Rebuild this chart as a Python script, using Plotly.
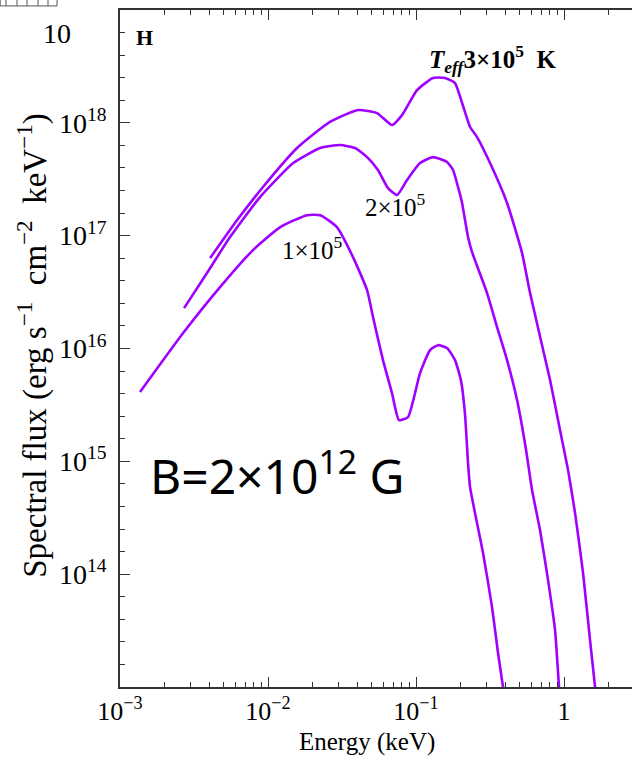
import plotly.graph_objects as go

# ---- data ----
# Teff = 1e5 K
E1 = [1.365e-3, 2.67e-3, 4.74e-3, 7.92e-3, 1.21e-2, 1.83e-2, 2.25e-2, 2.92e-2, 3.75e-2, 4.67e-2,
      5.12e-2, 5.98e-2, 6.88e-2, 7.67e-2, 8.83e-2, 0.1064, 0.1243, 0.1408, 0.162, 0.1834,
      0.2014, 0.2144, 0.2245, 0.2317, 0.2504, 0.2836, 0.3262, 0.3582, 0.3871, 0.4056]
F1 = [4.11e15, 1.37e16, 3.50e16, 7.45e16, 1.19e17, 1.52e17, 1.52e17, 1.19e17, 6.46e16, 3.29e16,
      1.90e16, 7.89e15, 4.02e15, 2.32e15, 2.47e15, 6.05e15, 9.68e15, 1.07e16, 1.01e16, 7.89e15,
      5.14e15, 2.57e15, 9.64e14, 5.91e14, 3.47e14, 1.54e14, 5.10e13, 1.99e13, 9.96e12, 6.23e12]

# Teff = 2e5 K
E2 = [2.71e-3, 3.87e-3, 5.54e-3, 8.83e-3, 1.48e-2, 2.25e-2, 3.07e-2, 3.87e-2, 4.67e-2, 5.53e-2,
      6.47e-2, 7.44e-2, 8.69e-2, 0.1064, 0.1302, 0.162, 0.1778, 0.1922, 0.2046, 0.2144,
      0.2245, 0.2390, 0.3018, 0.3526, 0.412, 0.4813, 0.5537, 0.608, 0.6884, 0.7796,
      0.8693, 0.925, 0.954]
F2 = [2.28e16, 4.66e16, 9.72e16, 2.20e17, 4.40e17, 5.98e17, 6.36e17, 5.98e17, 4.97e17, 3.82e17,
      2.64e17, 2.29e17, 3.11e17, 4.40e17, 4.97e17, 4.49e17, 3.82e17, 2.70e17, 1.95e17, 1.37e17,
      9.72e16, 7.16e16, 3.10e16, 1.55e16, 7.89e15, 3.49e15, 1.26e15, 5.56e14, 2.45e14, 8.85e13,
      3.19e13, 9.96e12, 6.23e12]

# Teff = 3e5 K
E3 = [4.06e-3, 6.17e-3, 9.25e-3, 1.57e-2, 2.62e-2, 4.06e-2, 5.45e-2, 6.88e-2, 8.04e-2, 0.1016,
      0.1302, 0.157, 0.1834, 0.2046, 0.2317, 0.2584, 0.3162, 0.412, 0.5202, 0.5893,
      0.8043, 0.9397, 1.064, 1.187, 1.344, 1.498, 1.620, 1.671]
F3 = [6.33e16, 1.37e17, 2.70e17, 5.98e17, 1.02e18, 1.30e18, 1.22e18, 9.56e17, 1.17e18, 1.95e18,
      2.50e18, 2.50e18, 2.25e18, 1.50e18, 9.18e17, 7.48e17, 4.40e17, 1.95e17, 7.01e16, 3.10e16,
      5.25e15, 1.89e15, 8.36e14, 3.47e14, 1.02e14, 2.60e13, 9.96e12, 6.23e12]

x_tickvals = [1e-3, 1e-2, 1e-1, 1]
x_ticktext = ["10<sup>\u22123</sup>", "10<sup>\u22122</sup>", "10<sup>\u22121</sup>", "1"]
y_tickvals = [1e14, 1e15, 1e16, 1e17, 1e18]
y_ticktext = ["10<sup>14</sup>", "10<sup>15</sup>", "10<sup>16</sup>", "10<sup>17</sup>", "10<sup>18</sup>"]

x_minor = [m * 10.0 ** k for k in (-3, -2, -1, 0) for m in range(2, 10)]
y_minor = [10 ** (d + f) for d in range(13, 19) for f in (0.2, 0.4, 0.6, 0.8)]

LINE = "#A000FF"
SERIF = "Liberation Serif"
AX = "#333333"

fig = go.Figure()
for E, F in ((E1, F1), (E2, F2), (E3, F3)):
    fig.add_trace(go.Scatter(x=E, y=F, mode="lines",
                             line=dict(color=LINE, width=2.6, shape="spline", smoothing=0.5),
                             hoverinfo="skip"))

fig.update_layout(
    width=632, height=757,
    margin=dict(l=120, r=0, t=10, b=70),
    plot_bgcolor="white", paper_bgcolor="white",
    showlegend=False,
    font=dict(family=SERIF, color="black"),
)

fig.update_xaxes(
    type="log", range=[-3, 0.459],
    showline=True, linecolor=AX, linewidth=1.5, mirror="allticks",
    showgrid=False, zeroline=False,
    ticks="inside", ticklen=10, tickwidth=1.3, tickcolor=AX,
    tickmode="array", tickvals=x_tickvals, ticktext=x_ticktext,
    tickfont=dict(family=SERIF, size=26, color="black"),
    ticklabelstandoff=0,
    minor=dict(ticks="inside", ticklen=5, tickwidth=1.2, tickcolor=AX,
               tickmode="array", tickvals=x_minor, showgrid=False),
)
fig.update_yaxes(
    type="log", range=[13, 19],
    showline=True, linecolor=AX, linewidth=1.5, mirror=False,
    showgrid=False, zeroline=False,
    ticks="inside", ticklen=10, tickwidth=1.3, tickcolor=AX,
    tickmode="array", tickvals=y_tickvals, ticktext=y_ticktext,
    tickfont=dict(family=SERIF, size=28, color="black"),
    ticklabelstandoff=6,
    minor=dict(ticks="inside", ticklen=5, tickwidth=1.2, tickcolor=AX,
               tickmode="array", tickvals=y_minor, showgrid=False),
)

ann = [
    dict(text="<b>H</b>", x=0.0488, y=0.960, size=22),
    dict(text="<b><i>T</i></b><sub><b><i>eff</i></b></sub><b>3\u00d710<sup>5</sup>\u00a0 K</b>",
         x=0.7266, y=0.9276, size=25),
    dict(text="2\u00d710<sup>5</sup>", x=0.539, y=0.712, size=25),
    dict(text="1\u00d710<sup>5</sup>", x=0.375, y=0.6485, size=25),
    dict(text="10", x=-0.123, y=0.966, size=28),
    dict(text="Energy (keV)", x=0.482, y=-0.0812, size=25),
]
for a in ann:
    fig.add_annotation(text=a["text"], x=a["x"], y=a["y"], xref="paper", yref="paper",
                       xanchor="center", yanchor="middle", showarrow=False,
                       font=dict(family=SERIF, size=a["size"], color="black"))

fig.add_annotation(text="Spectral flux (erg s<sup>\u22121</sup>\u00a0 cm<sup>\u22122</sup>\u00a0 keV<sup>\u22121</sup>)",
                   x=-0.170, y=0.504, xref="paper", yref="paper", textangle=-90,
                   xanchor="center", yanchor="middle", showarrow=False,
                   font=dict(family=SERIF, size=33, color="black"))

fig.add_annotation(text="B=2\u00d710<sup>12</sup> G", x=0.3066, y=0.316,
                   xref="paper", yref="paper", xanchor="center", yanchor="middle",
                   showarrow=False, font=dict(family="Noto Sans", size=48, color="black"))

# small boxed strip at the top-left corner of the page
fig.add_shape(type="rect", xref="paper", yref="paper",
              x0=-0.234, x1=-0.123, y0=1.006, y1=1.02,
              line=dict(color="#555555", width=1))
for px in (6, 17, 27, 38, 48):
    xp = (px - 120) / 512
    fig.add_shape(type="line", xref="paper", yref="paper", x0=xp, x1=xp, y0=1.006, y1=1.02,
                  line=dict(color="#555555", width=1))

fig.write_html("out.html", config={"displayModeBar": False},
               post_script="document.body.style.margin='0px';")
